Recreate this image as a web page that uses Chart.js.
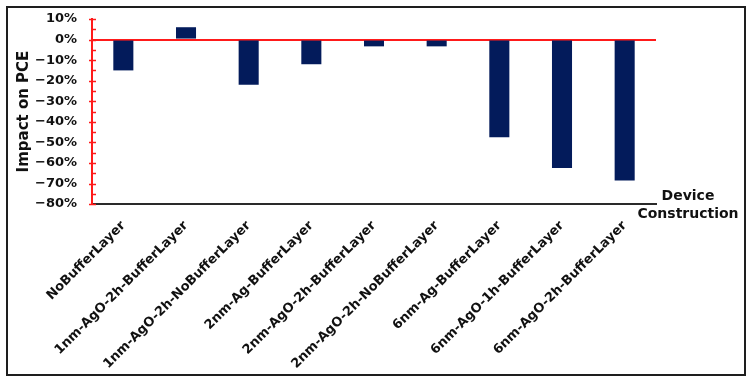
<!DOCTYPE html>
<html>
<head>
<meta charset="utf-8">
<script src="https://cdn.jsdelivr.net/npm/chart.js@4.4.1/dist/chart.umd.min.js"></script>
<style>
  html, body { margin: 0; padding: 0; background: #fff; }
  body { width: 752px; height: 387px; position: relative; }
  .frame {
    position: absolute; left: 6px; top: 6px;
    width: 736px; height: 366px;
    border: 2px solid #1e1e1e;
  }
</style>
</head>
<body>
<div class="frame"><canvas id="grafico"></canvas></div>
<script>
// dados
const construcoes = [
  'NoBufferLayer',
  '1nm-AgO-2h-BufferLayer',
  '1nm-AgO-2h-NoBufferLayer',
  '2nm-Ag-BufferLayer',
  '2nm-AgO-2h-BufferLayer',
  '2nm-AgO-2h-NoBufferLayer',
  '6nm-Ag-BufferLayer',
  '6nm-AgO-1h-BufferLayer',
  '6nm-AgO-2h-BufferLayer'
]
const impactoPCE = [-15, 6, -22, -12, -3.3, -3.3, -47.5, -62.5, -68.5]
const eixoY = { min: -80, max: 10, passo: 10 }

const fonte = 'DejaVu Sans'

// marcas vermelhas no eixo y (maiores nos 10%, menores nos 5%)
const marcasY = {
  id: 'marcasY',
  afterDraw(chart) {
    const y = chart.scales.y
    const c = chart.ctx
    const x0 = chart.chartArea.left
    c.save()
    c.strokeStyle = '#ff1a1a'
    c.lineWidth = 1.5
    for (let v = eixoY.min; v <= eixoY.max; v += eixoY.passo / 2) {
      const py = Math.round(y.getPixelForValue(v)) + 0.5
      const maior = v % eixoY.passo === 0
      c.beginPath()
      c.moveTo(maior ? x0 - 3 : x0, py)
      c.lineTo(x0 + 4, py)
      c.stroke()
    }
    c.restore()
  }
}

// titulo do eixo x, a direita do eixo
const tituloX = {
  id: 'tituloX',
  afterDraw(chart) {
    const a = chart.chartArea
    const c = chart.ctx
    c.save()
    c.fillStyle = '#111'
    c.font = `bold 14px "${fonte}"`
    c.textAlign = 'center'
    c.textBaseline = 'middle'
    c.fillText('Device', a.right + 32, a.bottom - 8)
    c.fillText('Construction', a.right + 32, a.bottom + 10)
    c.restore()
  }
}

const grafico = new Chart(document.getElementById('grafico'), {
  type: 'bar',
  data: {
    labels: construcoes,
    datasets: [{
      label: 'Impact on PCE',
      data: impactoPCE,
      backgroundColor: '#031b5b',
      barPercentage: 0.32,
      categoryPercentage: 1
    }]
  },
  options: {
    responsive: true,
    maintainAspectRatio: false,
    animation: false,
    layout: { padding: { left: 1, right: 88, top: 3, bottom: 0 } },
    plugins: {
      legend: { display: false },
      tooltip: { enabled: false }
    },
    scales: {
      x: {
        grid: { display: false },
        border: { display: true, color: '#2a2a2a', width: 2 },
        ticks: {
          autoSkip: false,
          maxRotation: 45,
          minRotation: 45,
          padding: 6,
          color: '#111',
          font: { family: fonte, size: 13, weight: 'bold' }
        },
        afterFit: (s) => { s.height -= 4 }
      },
      y: {
        min: eixoY.min,
        max: eixoY.max,
        border: { display: true, color: '#ff1a1a', width: 2 },
        grid: {
          drawTicks: false,
          lineWidth: 2,
          color: (ctx) => ctx.tick && ctx.tick.value === 0 ? '#ff1a1a' : 'rgba(0,0,0,0)'
        },
        ticks: {
          autoSkip: false,
          stepSize: eixoY.passo,
          padding: 15,
          color: '#111',
          font: { family: fonte, size: 13, weight: 'bold' },
          callback: (v) => (v < 0 ? '\u2212' : '') + Math.abs(v) + '%'
        },
        title: {
          display: true,
          text: 'Impact on PCE',
          color: '#111',
          font: { family: fonte, size: 15, weight: 'bold' },
          padding: { top: 6, bottom: 2 }
        },
        afterFit: (s) => {
          s.width -= 15
          s.paddingTop = 11
          s.paddingBottom = 8
        }
      }
    }
  },
  plugins: [marcasY, tituloX]
})
</script>
</body>
</html>
